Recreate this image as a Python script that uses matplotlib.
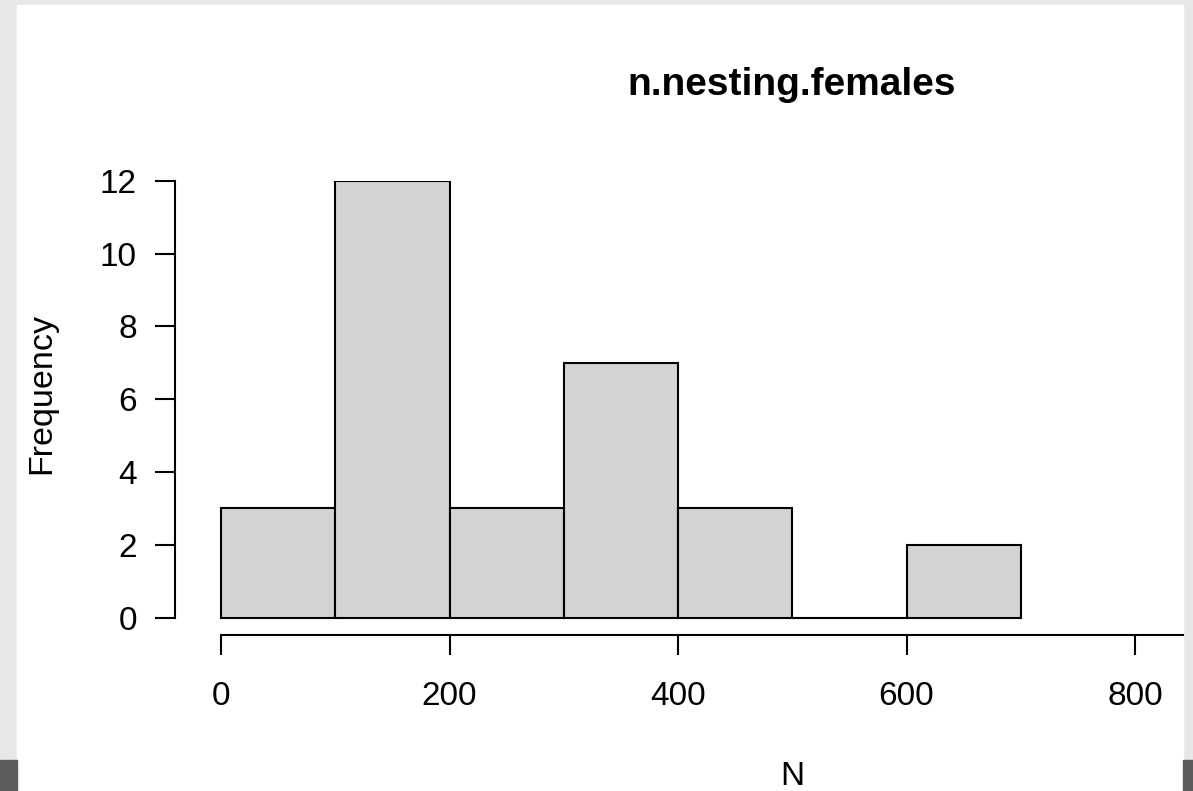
import numpy as np
import matplotlib
matplotlib.use('Agg')
import matplotlib.pyplot as plt
from matplotlib.patches import Rectangle

# histogram of n.nesting.females
bin_edges = [0, 100, 200, 300, 400, 500, 600, 700]
counts = [3, 12, 3, 7, 3, 0, 2]
x_ticks = [0, 200, 400, 600, 800]
y_ticks = [0, 2, 4, 6, 8, 10, 12]
title = 'n.nesting.females'
xlab = 'N'
ylab = 'Frequency'

plt.rcParams['font.family'] = ['Liberation Sans', 'DejaVu Sans']

W, H = 1193, 791
fig = plt.figure(figsize=(W / 100, H / 100), dpi=100)
fig.patch.set_facecolor('#e8e8ea')

def px(x, y):
    return x / W, 1 - y / H

# white page + dark strips at the bottom corners of the screenshot
fig.add_artist(Rectangle(px(17, 791), (1183 - 17) / W, (791 - 5) / H,
                         transform=fig.transFigure, color='white', zorder=0))
fig.add_artist(Rectangle(px(0, 791), 17 / W, 31 / H,
                         transform=fig.transFigure, color='#5c5c5c', zorder=0))
fig.add_artist(Rectangle(px(1183, 791), 10 / W, 31 / H,
                         transform=fig.transFigure, color='#5c5c5c', zorder=0))

# axes box in pixels
left, right, top, bottom = 175, 1183, 180.7, 634.5
ax = fig.add_axes([left / W, 1 - bottom / H, (right - left) / W, (bottom - top) / H])
ax.set_facecolor('none')

xscale = (1135 - 221) / 800.0
yscale = (617.7 - 180.7) / 12.0
ax.set_xlim((left - 221) / xscale, (right - 221) / xscale)
ax.set_ylim(-(bottom - 617.7) / yscale, 12)

widths = np.diff(bin_edges)
ax.bar(bin_edges[:-1], counts, width=widths, align='edge',
       color='#d3d3d3', edgecolor='black', linewidth=1.5)

for s in ['top', 'right']:
    ax.spines[s].set_visible(False)
ax.spines['left'].set_bounds(0, 12)
ax.spines['bottom'].set_bounds(0, ax.get_xlim()[1])
ax.spines['left'].set_linewidth(1.5)
ax.spines['bottom'].set_linewidth(1.5)

ax.set_xticks(x_ticks)
ax.set_yticks(y_ticks)
ax.tick_params(axis='both', length=14.4, width=1.5, labelsize=24, color='black')
ax.tick_params(axis='x', pad=19)
ax.tick_params(axis='y', pad=13)

fig.text(*px(792, 95), title, fontsize=28, fontweight='bold', ha='center', va='baseline')
fig.text(*px(792, 785), xlab, fontsize=24, ha='center', va='baseline')
fig.text(*px(42, 394), ylab, fontsize=24.5, ha='center', va='center', rotation=90)

fig.savefig('out.png', dpi=100)
